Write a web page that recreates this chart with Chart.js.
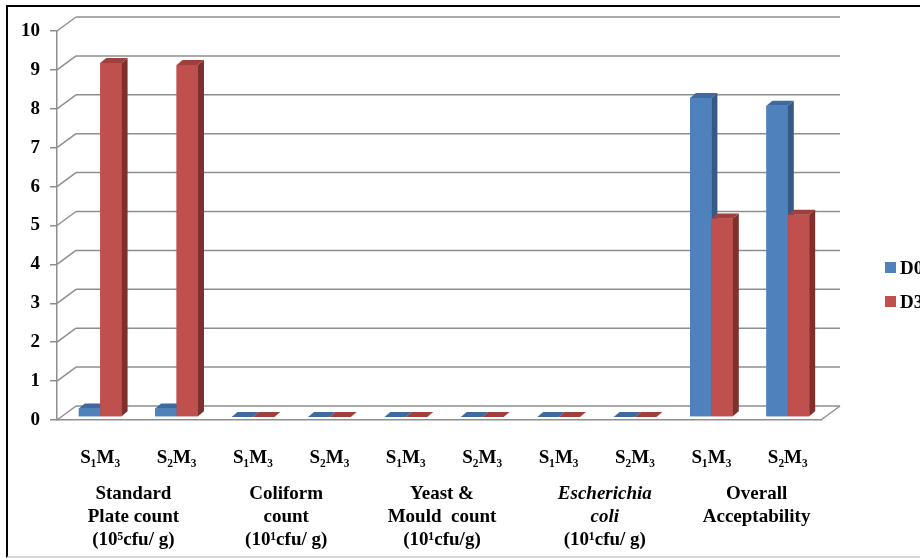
<!DOCTYPE html>
<html>
<head>
<meta charset="utf-8">
<script src="https://cdn.jsdelivr.net/npm/chart.js@4.4.0/dist/chart.umd.min.js"></script>
<style>
html,body{margin:0;padding:0;width:920px;height:558px;overflow:hidden;background:#fff}
#frame{position:absolute;left:6px;top:5px;width:1000px;height:549px;border-top:2px solid #000;border-left:2px solid #000;border-bottom:2px solid #d6d6d6}
#c{position:absolute;left:0;top:0}
</style>
</head>
<body>
<div id="frame"></div>
<canvas id="c" width="960" height="558"></canvas>
<script>
// ---- data ----
const categories = ['S₁M₃','S₂M₃','S₁M₃','S₂M₃','S₁M₃','S₂M₃','S₁M₃','S₂M₃','S₁M₃','S₂M₃'];
const groupLabels = [
  ['Standard','Plate count','(10⁵cfu/ g)'],
  ['Coliform','count','(10¹cfu/ g)'],
  ['Yeast &','Mould  count','(10¹cfu/g)'],
  ['Escherichia','coli','(10¹cfu/ g)'],
  ['Overall','Acceptability']
];
const seriesNames = ['D0','D30'];
const d0Values  = [0.22, 0.22, 0, 0, 0, 0, 0, 0, 8.2, 8.0];
const d30Values = [9.1, 9.05, 0, 0, 0, 0, 0, 0, 5.1, 5.2];
const yTicks = [0,1,2,3,4,5,6,7,8,9,10];

// ---- style ----
const FRONT = ['#4F81BD','#C0504D'];
const TOP   = ['#3E6AA0','#A03F3C'];
const SIDE  = ['#365A85','#7E302E'];
const GRID = '#8e8e8e';
const DX = 19, DY = -14;   // wall depth
const BX = 5,  BY = -3;    // bar front offset into depth
const SX = 6,  SY = -5;    // bar depth
const FONT = '"Liberation Serif", "Times New Roman", serif';

function line(ctx,x1,y1,x2,y2){ ctx.beginPath(); ctx.moveTo(x1,y1); ctx.lineTo(x2,y2); ctx.stroke(); }
function poly(ctx,pts,color){ ctx.beginPath(); ctx.moveTo(pts[0][0],pts[0][1]); for(let i=1;i<pts.length;i++) ctx.lineTo(pts[i][0],pts[i][1]); ctx.closePath(); ctx.fillStyle=color; ctx.fill(); }

const threeD = {
  id: 'threeD',
  beforeDatasetsDraw(chart){
    const {ctx, chartArea:a, scales:{x,y}} = chart;
    ctx.save();
    ctx.strokeStyle = GRID; ctx.lineWidth = 1.5;
    yTicks.forEach(v => {
      const py = y.getPixelForValue(v);
      line(ctx, a.left, py, a.left+DX, py+DY);
      line(ctx, a.left+DX, py+DY, a.right+DX, py+DY);
    });
    const p0 = y.getPixelForValue(0);
    line(ctx, a.right, p0, a.right+DX, p0+DY);
    ctx.restore();
    ctx.save();
    ctx.translate(BX, BY);
  },
  afterDatasetsDraw(chart){
    const ctx = chart.ctx;
    const n = chart.data.labels.length;
    for (let i = 0; i < n; i++) {
      chart.data.datasets.forEach((ds, di) => {
        const meta = chart.getDatasetMeta(di);
        const el = meta.data[i];
        el.draw(ctx);
        const p = el.getProps(['x','y','base','width'], true);
        const l = p.x - p.width/2, r = p.x + p.width/2;
        const t = Math.min(p.y, p.base), b = Math.max(p.y, p.base);
        poly(ctx, [[r,t],[r+SX,t+SY],[r+SX,b+SY],[r,b]], SIDE[di]);
        poly(ctx, [[l,t],[r,t],[r+SX,t+SY],[l+SX,t+SY]], TOP[di]);
      });
    }
    ctx.restore();
  },
  afterDraw(chart){
    const {ctx, scales:{x}} = chart;
    const nudge = [0, 0, 3, 13, 12];
    const italic = {3: [0,1]};
    ctx.save();
    ctx.fillStyle = '#000';
    ctx.textAlign = 'center';
    ctx.textBaseline = 'alphabetic';
    groupLabels.forEach((lines, g) => {
      const cx = (x.getPixelForValue(2*g) + x.getPixelForValue(2*g+1))/2 + nudge[g];
      lines.forEach((txt, k) => {
        const it = italic[g] && italic[g].includes(k);
        ctx.font = (it ? 'italic ' : '') + 'bold 19px ' + FONT;
        ctx.fillText(txt, cx, 499 + k*23);
      });
    });
    ctx.textAlign = 'left';
    ctx.font = 'bold 19px ' + FONT;
    chart.data.datasets.forEach((ds, di) => {
      const yy = 262 + di*34;
      ctx.fillStyle = FRONT[di];
      ctx.fillRect(885, yy, 11, 11);
      ctx.fillStyle = '#000';
      ctx.fillText(ds.label, 900, yy + 12);
    });
    ctx.restore();
  }
};

new Chart(document.getElementById('c'), {
  type: 'bar',
  data: {
    labels: categories,
    datasets: [
      { label: seriesNames[0], data: d0Values,  backgroundColor: FRONT[0], borderWidth: 0, clip: false },
      { label: seriesNames[1], data: d30Values, backgroundColor: FRONT[1], borderWidth: 0, clip: false }
    ]
  },
  options: {
    responsive: false,
    animation: false,
    events: [],
    layout: { padding: { top: 31, right: 139, bottom: 0, left: 0 } },
    datasets: { bar: { categoryPercentage: 0.56, barPercentage: 1.0 } },
    plugins: { legend: { display: false }, tooltip: { enabled: false } },
    scales: {
      x: {
        afterFit: s => { s.height = 138; },
        grid: { display: false },
        border: { display: true, color: GRID, width: 1.5 },
        ticks: { color: '#000', font: { family: FONT, size: 19, weight: 'bold' }, padding: 19, labelOffset: 5, maxRotation: 0, autoSkip: false }
      },
      y: {
        min: 0, max: 10,
        afterFit: s => { s.width = 57; },
        afterBuildTicks: s => { s.ticks = yTicks.map(v => ({ value: v })); },
        grid: { drawOnChartArea: false, drawTicks: true, tickLength: 7, color: GRID, lineWidth: 1.5 },
        border: { display: true, color: GRID, width: 1.5 },
        ticks: { color: '#000', font: { family: FONT, size: 19, weight: 'bold' }, padding: 10 }
      }
    }
  },
  plugins: [threeD]
});
</script>
</body>
</html>
